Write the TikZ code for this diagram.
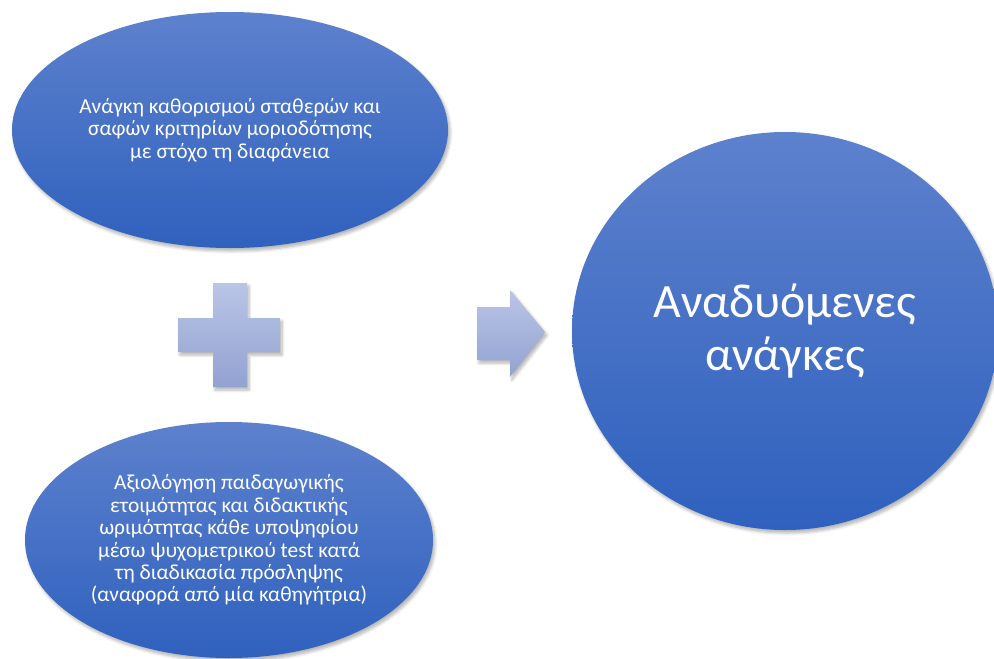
\documentclass[tikz,border=0pt]{standalone}
\usepackage{fontspec}
\setmainfont{Carlito}
\usetikzlibrary{shapes.geometric,shadows.blur}
\definecolor{ovaltop}{RGB}{93,129,205}
\definecolor{ovalbot}{RGB}{47,97,190}
\definecolor{signtop}{RGB}{186,197,230}
\definecolor{signbot}{RGB}{146,162,209}
\tikzset{
  softshadow/.style={blur shadow={shadow xshift=2bp, shadow yshift=-3bp,
      shadow opacity=30, shadow blur steps=6, shadow blur radius=3bp}},
  oval/.style={ellipse, inner sep=0pt, draw=none, shading=axis,
      top color=ovaltop, bottom color=ovalbot, text=white, align=center,
      softshadow},
  sign/.style={draw=none, shading=axis, top color=signtop,
      bottom color=signbot, softshadow},
  smalltext/.style={font=\fontsize{21.5}{22.5}\selectfont},
  bigtext/.style={font=\fontsize{48}{53}\selectfont}
}
\begin{document}
\begin{tikzpicture}[x=1bp,y=-1bp]
\useasboundingbox (0,0) rectangle (994,659);
\clip (0,0) rectangle (994,659);

% first requirement
\node[oval, smalltext, minimum width=436bp, minimum height=236bp] (need1) at (230,130)
  {Ανάγκη καθορισμού σταθερών και\\ σαφών κριτηρίων μοριοδότησης\\ με στόχο τη διαφάνεια};

% second requirement
\node[oval, smalltext, minimum width=408bp, minimum height=236bp] (need2) at (229,540)
  {Αξιολόγηση παιδαγωγικής\\ ετοιμότητας και διδακτικής\\ ωριμότητας κάθε υποψηφίου\\
   μέσω ψυχομετρικού test κατά\\ τη διαδικασία πρόσληψης\\ (αναφορά από μία καθηγήτρια)};

% result
\node[oval, bigtext, minimum width=426bp, minimum height=398bp] (result) at (785,331)
  {Αναδυόμενες\\ ανάγκες};

% plus sign
\path[sign] (213,283) -- (247,283) -- (247,318) -- (280,318) -- (280,352)
  -- (247,352) -- (247,387) -- (213,387) -- (213,352) -- (178,352)
  -- (178,318) -- (213,318) -- cycle;

% arrow
\path[sign] (477,307) -- (510,307) -- (510,290) -- (545,332) -- (510,377)
  -- (510,360) -- (477,360) -- cycle;
\end{tikzpicture}
\end{document}
